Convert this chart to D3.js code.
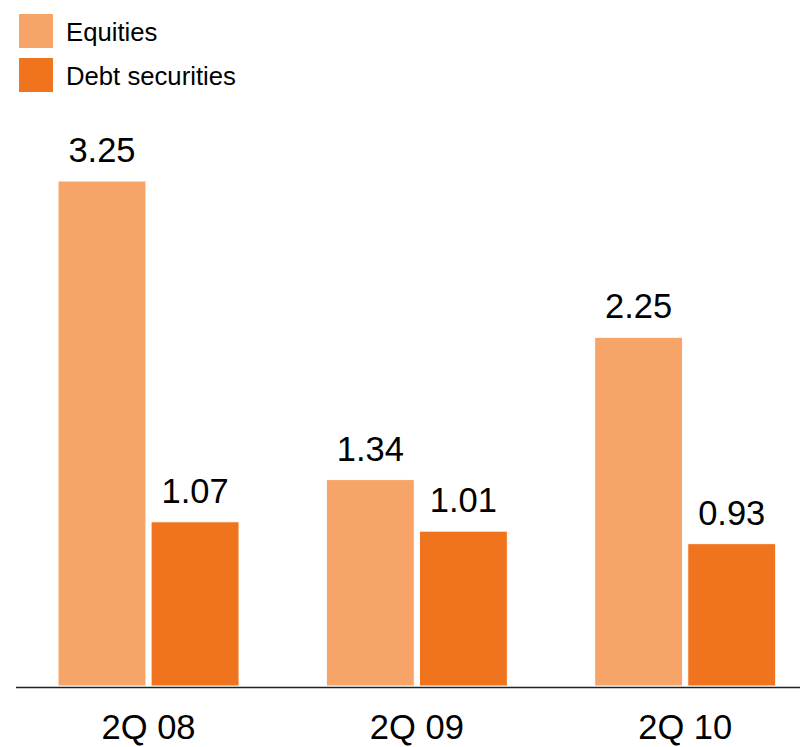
<!DOCTYPE html>
<html><head><meta charset="utf-8">
<script src="https://cdn.jsdelivr.net/npm/d3@7"></script>
<style>body{margin:0;background:#fff}svg{display:block;font-family:"Liberation Sans",Arial,sans-serif}</style>
</head><body>
<svg id="c" width="800" height="747"></svg>
<script>
const categories = ["2Q 08", "2Q 09", "2Q 10"];
const seriesNames = ["Equities", "Debt securities"];
const equities = [3.25, 1.34, 2.25];
const debt = [1.07, 1.01, 0.93];
const colors = ["#F7A469", "#F0731E"];

const svg = d3.select("#c");
const data = categories.map((c, i) => ({cat: c, values: [equities[i], debt[i]]}));

const x0 = d3.scaleBand().domain(categories).range([14.35, 819.35]).paddingInner(0.3254).paddingOuter(0.1627);
const x1 = d3.scaleBand().domain(seriesNames).range([0, x0.bandwidth()]).paddingInner(0.055);
const y = d3.scaleLinear().domain([0, 3.5]).range([689, 689 - 3.5 * 156.3]);
const barBottom = 686;

const g = svg.append("g");
const groups = g.selectAll("g.grp").data(data).join("g").attr("transform", d => `translate(${x0(d.cat)},0)`);
groups.selectAll("rect").data(d => d.values.map((v, i) => ({name: seriesNames[i], v, i})))
  .join("rect")
  .attr("x", d => x1(d.name)).attr("width", x1.bandwidth())
  .attr("y", d => y(d.v)).attr("height", d => barBottom - y(d.v))
  .attr("fill", d => colors[d.i]).attr("stroke", "#fff").attr("stroke-width", 1);
groups.selectAll("text.val").data(d => d.values.map((v, i) => ({name: seriesNames[i], v, i})))
  .join("text").attr("class", "val")
  .attr("x", d => x1(d.name) + x1.bandwidth() / 2).attr("y", d => y(d.v) - 19)
  .attr("text-anchor", "middle").attr("font-size", 34.5).attr("fill", "#000")
  .text(d => d.v.toFixed(2));

// axis
const xAxis = d3.axisBottom(x0).tickSize(0).tickPadding(30);
const ax = svg.append("g").attr("transform", "translate(0,687)").call(xAxis);
ax.select(".domain").remove();
ax.selectAll("text").attr("font-size", 34.5).attr("fill", "#000").attr("font-family", "Liberation Sans, Arial, sans-serif").attr("dy", null).attr("y", 52);
svg.append("line").attr("x1", 16).attr("x2", 800).attr("y1", 687.5).attr("y2", 687.5).attr("stroke", "#222").attr("stroke-width", 1.5);

// legend
const leg = svg.append("g");
seriesNames.forEach((n, i) => {
  leg.append("rect").attr("x", 19).attr("y", 14 + i * 44).attr("width", 34).attr("height", 34).attr("fill", colors[i]);
  leg.append("text").attr("x", 66).attr("y", 41 + i * 44).attr("font-size", 25.7).attr("fill", "#000").text(n);
});
</script>
</body></html>
